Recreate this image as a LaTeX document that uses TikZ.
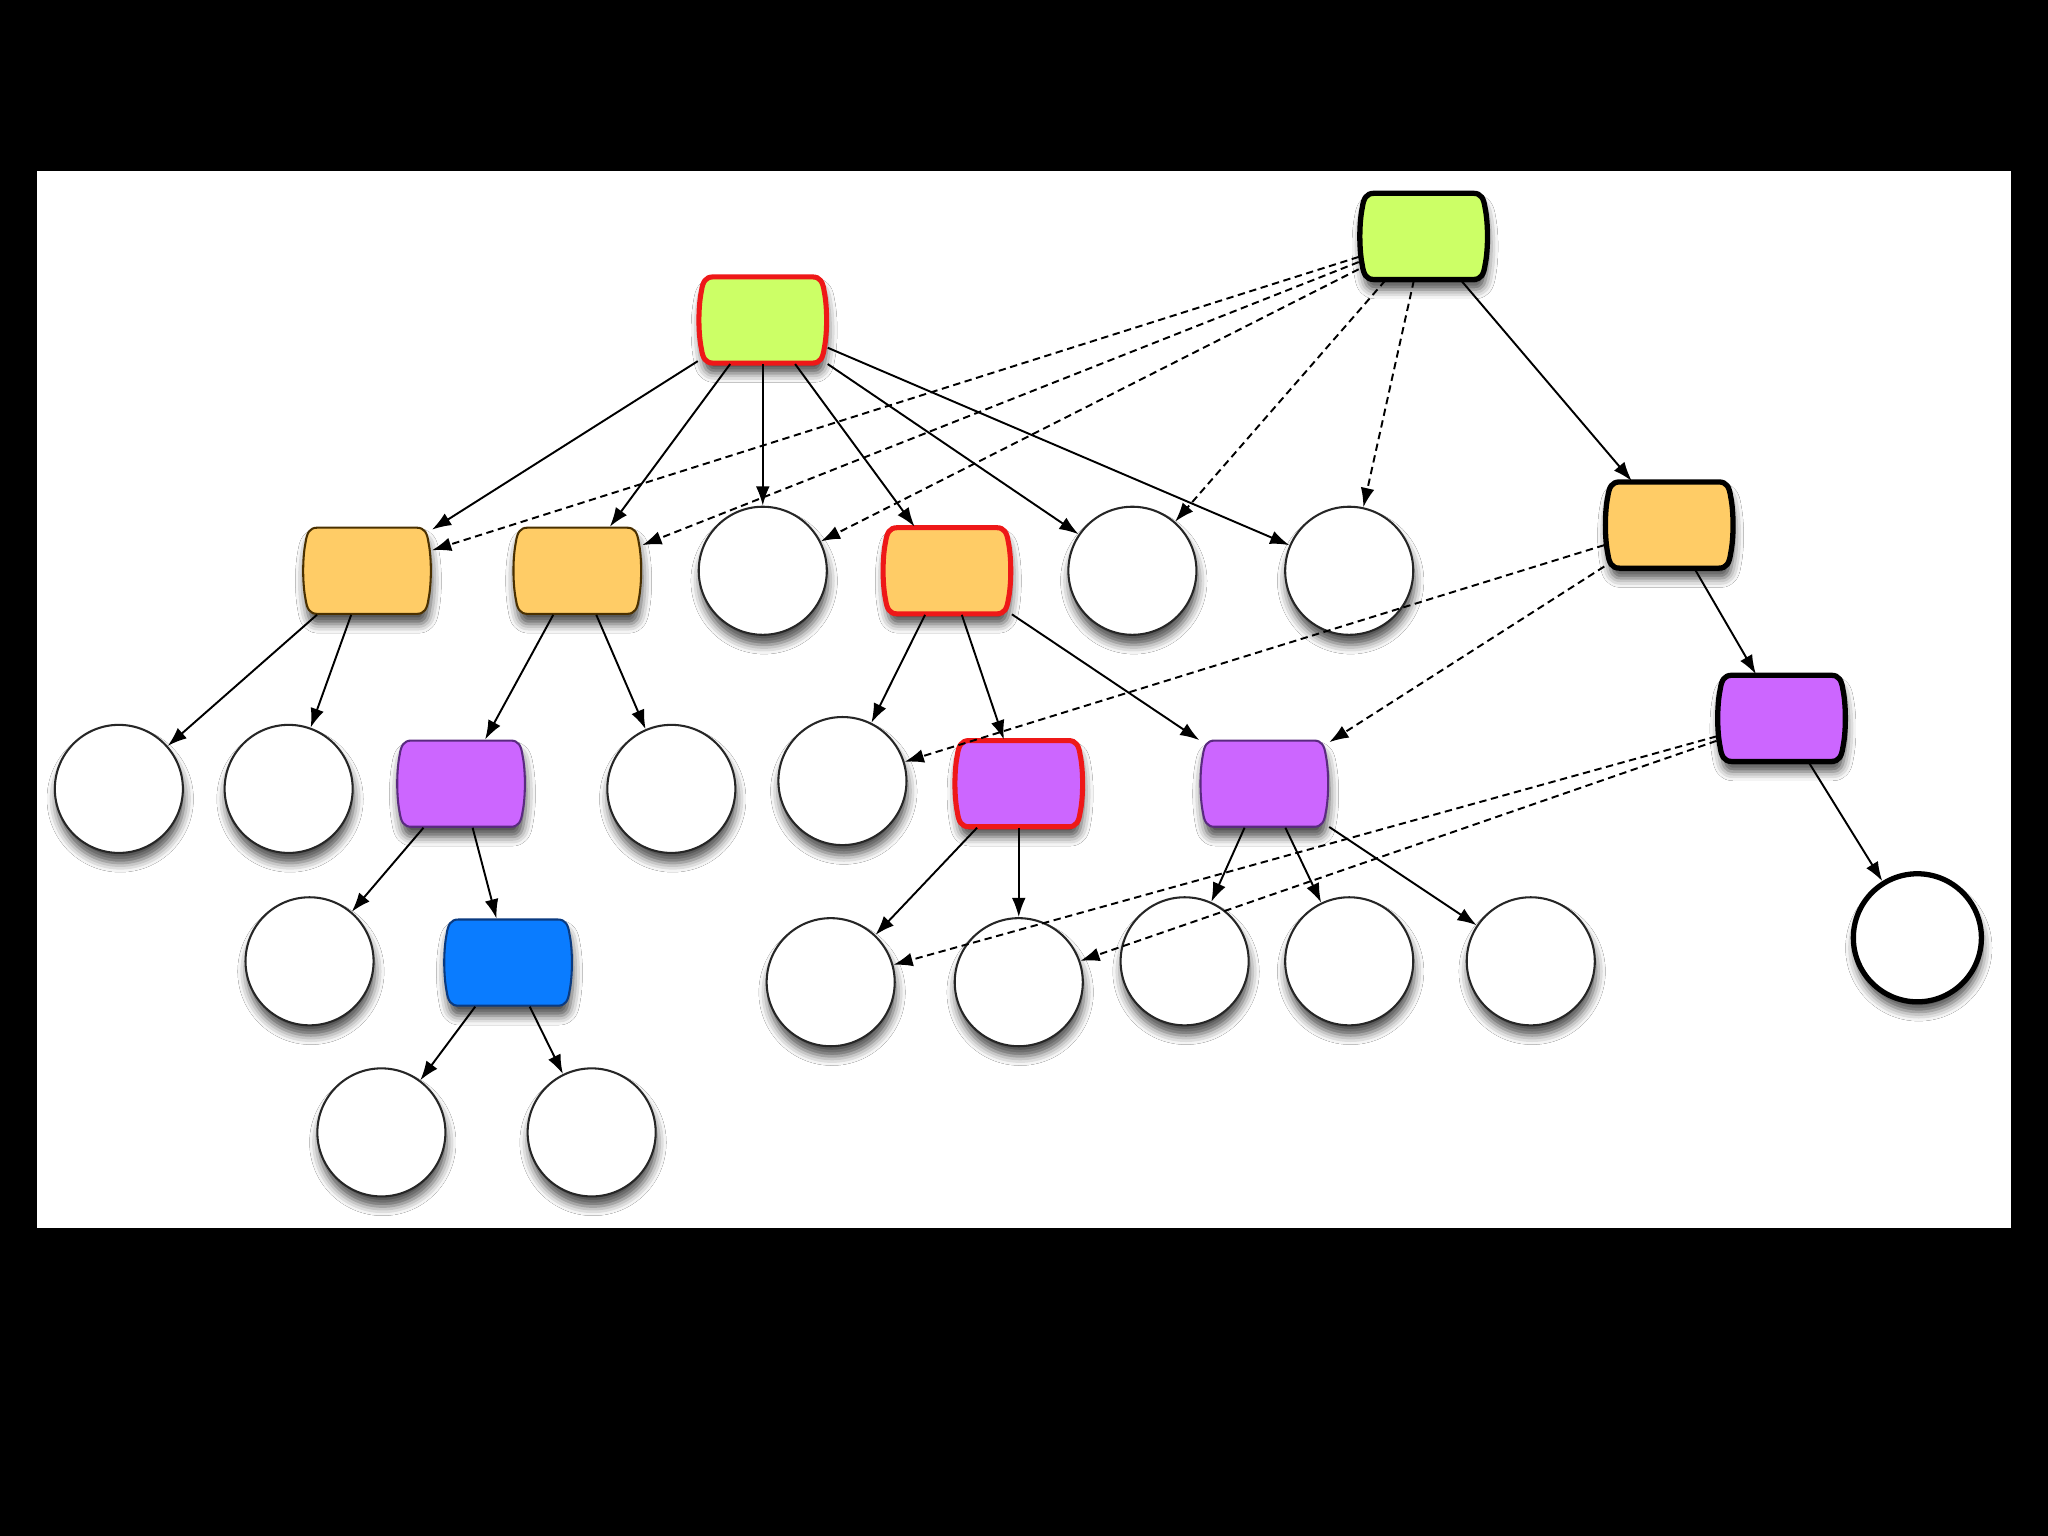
\documentclass[tikz,border=0pt]{standalone}
\usetikzlibrary{arrows.meta,shadows.blur}
\definecolor{cgreen}{HTML}{CCFF66}
\definecolor{corange}{HTML}{FFCC66}
\definecolor{cpurple}{HTML}{CC66FF}
\definecolor{cblue}{HTML}{0A7CFF}
\definecolor{cred}{HTML}{EE1818}
\definecolor{dorange}{HTML}{4A3000}
\definecolor{dpurple}{HTML}{5A2A80}
\definecolor{dblue}{HTML}{0A3A80}
\newcommand\barrel[4]{%
  \draw[shad,line width=0.45pt,#4,shift={(#2,#3)}]
    (-38,-33) -- (38,-33) .. controls (44,-33) and (46,-29) .. (47,-22)
    .. controls (49.5,-10) and (49.5,10) .. (47,22)
    .. controls (46,29) and (44,33) .. (38,33) -- (-38,33)
    .. controls (-44,33) and (-46,29) .. (-47,22)
    .. controls (-49.5,10) and (-49.5,-10) .. (-47,-22)
    .. controls (-46,-29) and (-44,-33) .. (-38,-33) -- cycle;
  \node[rectangle,minimum width=0.98cm,minimum height=0.66cm,inner sep=0pt] (#1) at (#2,#3) {};}
\begin{document}
\begin{tikzpicture}[x=0.01cm,y=-0.01cm,
  shad/.style={blur shadow={shadow xshift=0.3pt,shadow yshift=-2.2pt,shadow blur radius=2pt,shadow opacity=70}},
  gbox/.style={fill=cgreen},
  obox/.style={fill=corange,draw=dorange},
  pbox/.style={fill=cpurple,draw=dpurple},
  bbox/.style={fill=cblue,draw=dblue},
  redb/.style={draw=cred,line width=1.1pt},
  thickb/.style={draw=black,line width=1.15pt},
  circ/.style={circle,minimum size=0.98cm,inner sep=0pt,draw=black!85,fill=white,line width=0.45pt,shad},
  sarr/.style={-{Latex[length=4.2pt,width=3pt]},line width=0.42pt,black},
  darr/.style={sarr,dash pattern=on 1.6pt off 1pt}]
\fill[black] (0,0) rectangle (1568,1176);
\fill[white] (28,131) rectangle (1540,940);
% row 0/1
\barrel{G1}{1090}{181}{gbox,thickb}
\barrel{G2}{584}{245}{gbox,redb}
% row 2
\barrel{O1}{281}{437}{obox}
\barrel{O2}{442}{437}{obox}
\node[circ] (C1) at (584,437) {};
\barrel{O3}{725}{437}{obox,redb}
\node[circ] (C2) at (867,437) {};
\node[circ] (C3) at (1033,437) {};
\barrel{O4}{1278}{402}{obox,thickb}
% row 3
\node[circ] (C4) at (91,604) {};
\node[circ] (C5) at (221,604) {};
\barrel{P1}{353}{600}{pbox}
\node[circ] (C6) at (514,604) {};
\node[circ] (C7) at (645,598) {};
\barrel{P2}{780}{600}{pbox,redb}
\barrel{P3}{968}{600}{pbox}
\barrel{P4}{1364}{550}{pbox,thickb}
% row 4
\node[circ] (C8) at (237,736) {};
\barrel{B1}{389}{737}{bbox}
\node[circ] (C9) at (636,752) {};
\node[circ] (C10) at (780,752) {};
\node[circ] (C11) at (907,736) {};
\node[circ] (C12) at (1033,736) {};
\node[circ] (C13) at (1172,736) {};
\node[circ,draw=black,line width=1.15pt] (C14) at (1468,718) {};
% row 5
\node[circ] (C15) at (292,867) {};
\node[circ] (C16) at (453,867) {};
% solid edges
\foreach \t in {O1,O2,C1,O3,C2,C3} \draw[sarr] (G2) -- (\t);
\draw[sarr] (O1) -- (C4);
\draw[sarr] (O1) -- (C5);
\draw[sarr] (O2) -- (P1);
\draw[sarr] (O2) -- (C6);
\draw[sarr] (O3) -- (C7);
\draw[sarr] (O3) -- (P2);
\draw[sarr] (O3) -- (P3);
\draw[sarr] (P1) -- (C8);
\draw[sarr] (P1) -- (B1);
\draw[sarr] (B1) -- (C15);
\draw[sarr] (B1) -- (C16);
\draw[sarr] (P2) -- (C9);
\draw[sarr] (P2) -- (C10);
\draw[sarr] (P3) -- (C11);
\draw[sarr] (P3) -- (C12);
\draw[sarr] (P3) -- (C13);
\draw[sarr] (G1) -- (O4);
\draw[sarr] (O4) -- (P4);
\draw[sarr] (P4) -- (C14);
% dashed edges
\foreach \t in {O1,O2,C1,C2,C3} \draw[darr] (G1) -- (\t);
\draw[darr] (O4) -- (C7);
\draw[darr] (O4) -- (P3);
\draw[darr] (P4) -- (C9);
\draw[darr] (P4) -- (C10);
\end{tikzpicture}
\end{document}
